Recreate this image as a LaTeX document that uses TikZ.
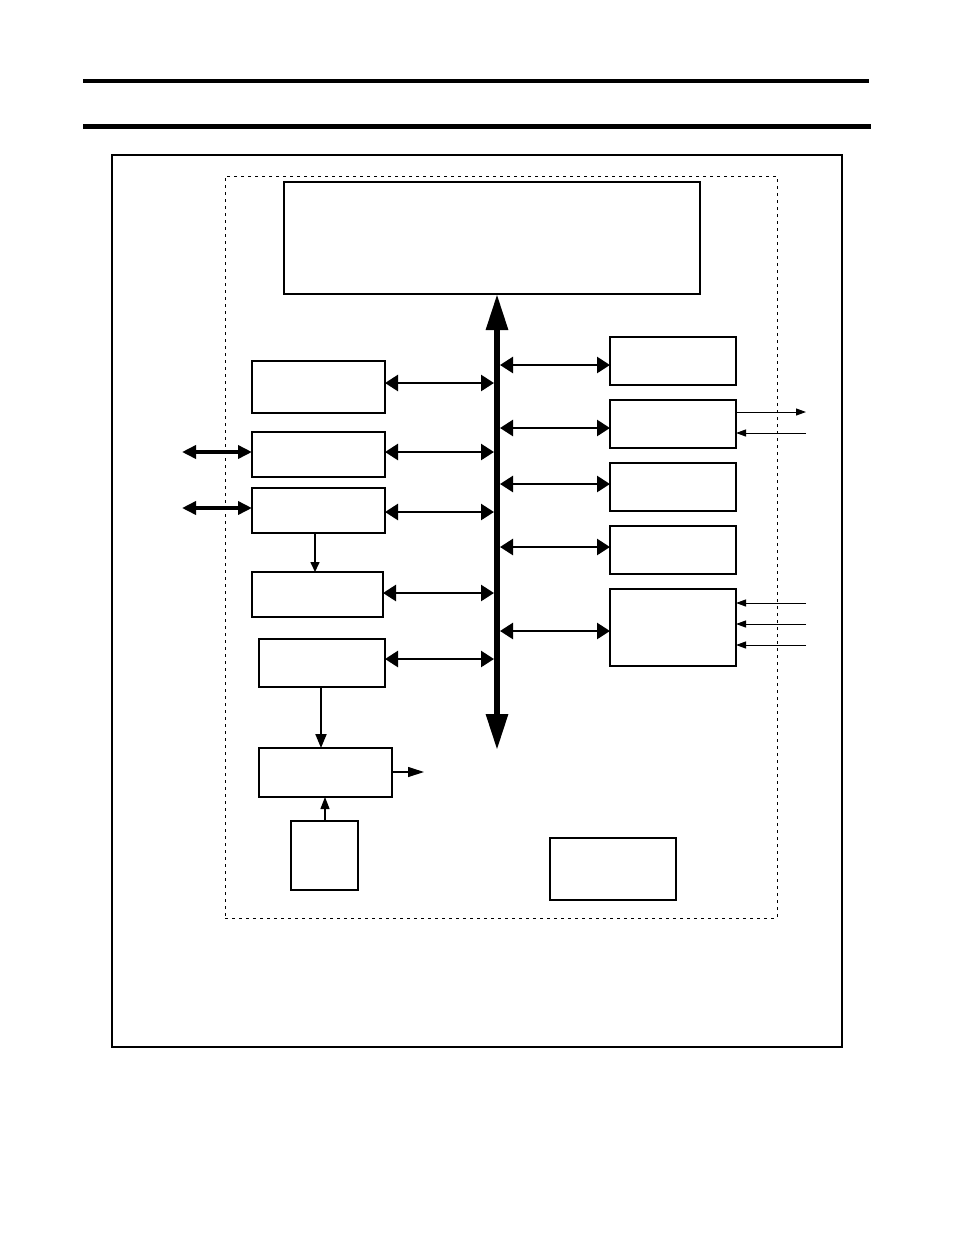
\documentclass[tikz,border=0pt]{standalone}
\usetikzlibrary{arrows.meta}
\begin{document}
\begin{tikzpicture}[x=1pt,y=-1pt,
  box/.style={draw,line width=1.8pt,anchor=north west,inner sep=0pt,outer sep=0pt},
  dbl/.style={line width=2.6pt,{Triangle[length=13pt,width=16pt]}-{Triangle[length=13pt,width=16pt]}},
  ext/.style={line width=4pt,{Triangle[length=14pt,width=13pt]}-{Triangle[length=14pt,width=13pt]}},
  thin/.style={line width=1pt,-{Triangle[length=10pt,width=7pt]}},
  mid/.style={line width=2pt,-{Triangle[length=14pt,width=11pt]}}]
\useasboundingbox (0,0) rectangle (954,1235);
% header rules
\draw[line width=4pt] (83,81) -- (869,81);
\draw[line width=5pt] (83,126) -- (871,126);
% frames
\node[box,line width=1.6pt,minimum width=730pt,minimum height=892pt] (outer) at (112,155) {};
\node[draw,line width=1pt,dash pattern=on 3pt off 4pt,anchor=north west,inner sep=0pt,outer sep=0pt,minimum width=552pt,minimum height=742pt] (dash) at (225,176) {};
% top block
\node[box,line width=1.4pt,minimum width=416pt,minimum height=112pt] (top) at (284,182) {};
% bus
\node[inner sep=0pt,outer sep=0pt,minimum width=6pt,minimum height=456pt,anchor=north] (bus) at (497,294) {};
\draw[line width=6pt,{Triangle[length=36pt,width=21pt]}-{Triangle[length=36pt,width=21pt]}] (bus.north) -- (bus.south);
% left boxes
\node[box,minimum width=133pt,minimum height=52pt] (L1) at (252,361) {};
\node[box,minimum width=133pt,minimum height=45pt] (L2) at (252,432) {};
\node[box,minimum width=133pt,minimum height=45pt] (L3) at (252,488) {};
\node[box,minimum width=131pt,minimum height=45pt] (L4) at (252,572) {};
\node[box,minimum width=126pt,minimum height=48pt] (L5) at (259,639) {};
\node[box,minimum width=133pt,minimum height=49pt] (L6) at (259,748) {};
\node[box,minimum width=67pt,minimum height=69pt] (L7) at (291,821) {};
% right boxes
\node[box,minimum width=126pt,minimum height=48pt] (R1) at (610,337) {};
\node[box,minimum width=126pt,minimum height=48pt] (R2) at (610,400) {};
\node[box,minimum width=126pt,minimum height=48pt] (R3) at (610,463) {};
\node[box,minimum width=126pt,minimum height=48pt] (R4) at (610,526) {};
\node[box,minimum width=126pt,minimum height=77pt] (R5) at (610,589) {};
\node[box,minimum width=126pt,minimum height=62pt] (B1) at (550,838) {};
% external points
\coordinate (e1) at (182,452);
\coordinate (e2) at (182,508);
\coordinate (o6) at (424,772);
\coordinate (o2) at (806,412);
\coordinate (i2) at (806,433);
\coordinate (i5a) at (806,603);
\coordinate (i5b) at (806,624);
\coordinate (i5c) at (806,645);
% bus connectors left
\draw[dbl] (L1.east |- 0,383) -- (bus.west |- 0,383);
\draw[dbl] (L2.east |- 0,452) -- (bus.west |- 0,452);
\draw[dbl] (L3.east |- 0,512) -- (bus.west |- 0,512);
\draw[dbl] (L4.east |- 0,593) -- (bus.west |- 0,593);
\draw[dbl] (L5.east |- 0,659) -- (bus.west |- 0,659);
% bus connectors right
\draw[dbl] (bus.east |- 0,365) -- (R1.west |- 0,365);
\draw[dbl] (bus.east |- 0,428) -- (R2.west |- 0,428);
\draw[dbl] (bus.east |- 0,484) -- (R3.west |- 0,484);
\draw[dbl] (bus.east |- 0,547) -- (R4.west |- 0,547);
\draw[dbl] (bus.east |- 0,631) -- (R5.west |- 0,631);
% external
\draw[ext] (e1) -- (L2.west |- e1);
\draw[ext] (e2) -- (L3.west |- e2);
% vertical links
\draw[line width=1.6pt,-{Triangle[length=10pt,width=9pt]}] (L3.south -| 315,0) -- (L4.north -| 315,0);
\draw[mid] (L5.south -| 321,0) -- (L6.north -| 321,0);
\draw[line width=1.2pt,-{Triangle[length=12pt,width=9pt]}] (L7.north -| 325,0) -- (L6.south -| 325,0);
\draw[line width=1.2pt,-{Triangle[length=16pt,width=10pt]}] (L6.east |- o6) -- (o6);
% right side signals
\draw[thin] (R2.east |- o2) -- (o2);
\draw[thin] (i2) -- (R2.east |- i2);
\draw[thin] (i5a) -- (R5.east |- i5a);
\draw[thin] (i5b) -- (R5.east |- i5b);
\draw[thin] (i5c) -- (R5.east |- i5c);
\end{tikzpicture}
\end{document}
